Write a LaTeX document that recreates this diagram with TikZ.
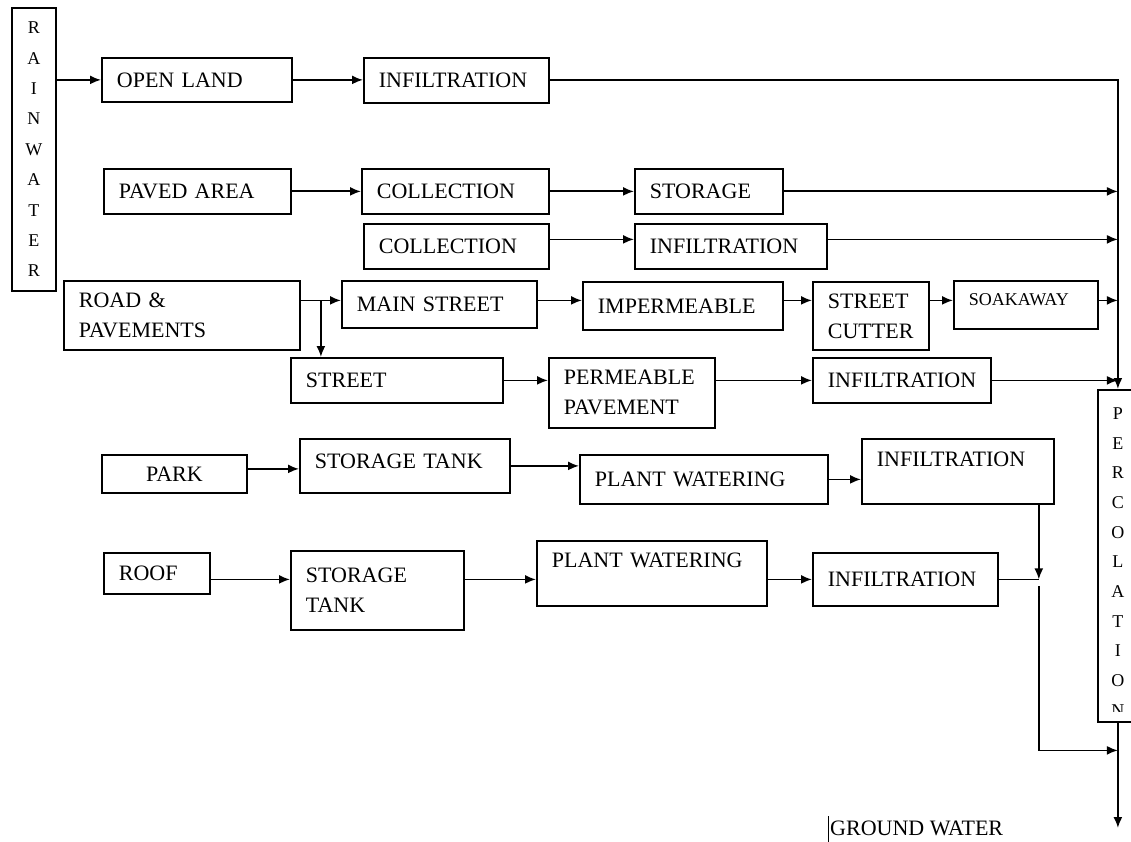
\documentclass[tikz,border=0pt]{standalone}
\usepackage{fontspec}
\setmainfont{Liberation Serif}
\usetikzlibrary{arrows.meta,calc}
\tikzset{
	box/.style 2 args={
			draw, line width=1.8pt, anchor=north west, align=left,
			inner xsep=15pt, inner ysep=0pt,
			minimum width=#1pt, minimum height=#2pt, text width=#1pt-30pt,
			font=\fontsize{22}{30}\selectfont
		},
	letters/.style={
			align=center, inner sep=0pt,
			font=\fontsize{18}{#1}\selectfont
		},
	flow/.style={line width=1.8pt, -{Latex[length=11pt,width=9pt]}},
	link/.style={line width=1.8pt}
}

\begin{document}
\begin{tikzpicture}[x=1pt,y=-1pt]
			\useasboundingbox (0,0) rectangle (1131,842);

			\node [draw, line width=1.8pt, anchor=north west, minimum width=44pt, minimum height=283pt, letters=30.4pt] (rain) at (11,7) {R\\A\\I\\N\\W\\A\\T\\E\\R};

			\node [box={190}{44}] (open) at (101,57) {OPEN LAND};
			\node [box={185}{45}] (infa) at (363,57) {INFILTRATION};

			\node [box={187}{45}] (paved) at (103,168) {PAVED AREA};
			\node [box={187}{45}] (colla) at (361,168) {COLLECTION};
			\node [box={148}{45}] (stor) at (634,168) {STORAGE};
			\node [box={185}{45}] (collb) at (363,223) {COLLECTION};
			\node [box={192}{45}] (infb) at (634,223) {INFILTRATION};

			\node [box={236}{69}] (road) at (63,280) {ROAD \&\\PAVEMENTS};
			\node [box={195}{47}] (mains) at (341,280) {MAIN STREET};
			\node [box={200}{48}] (imper) at (582,281) {IMPERMEABLE};
			\node [box={116}{68}] (cutter) at (812,281) {STREET\\CUTTER};
			\node [box={144}{48}, font=\fontsize{18}{24}\selectfont, text depth=10pt] (soak) at (953,280) {SOAKAWAY};
			\node [box={212}{45}] (street) at (290,357) {STREET};
			\node [box={166}{70}] (perm) at (548,357) {PERMEABLE\\PAVEMENT};
			\node [box={178}{45}] (infc) at (812,357) {INFILTRATION};

			\node [box={145}{38}, align=center] (park) at (101,454) {PARK};
			\node [box={210}{54}, text depth=10pt] (sta) at (299,438) {STORAGE TANK};
			\node [box={248}{49}] (pwa) at (579,454) {PLANT WATERING};
			\node [box={192}{65}, text depth=25pt] (infd) at (861,438) {INFILTRATION};

			\node [box={106}{41}] (roof) at (103,552) {ROOF};
			\node [box={173}{79}] (stb) at (290,550) {STORAGE\\TANK};
			\node [box={230}{65}, text depth=27pt] (pwb) at (536,540) {PLANT WATERING};
			\node [box={185}{53}] (infe) at (812,552) {INFILTRATION};

			\node [draw, line width=1.8pt, anchor=north west, minimum width=40pt, minimum height=332pt] (perc) at (1097,389) {};
			\begin{scope}
				\clip (perc.north west) rectangle ([yshift=11pt]perc.south east);
				\node [letters=29.7pt] (percword) at ($(perc.center)+(0,6)$) {P\\E\\R\\C\\O\\L\\A\\T\\I\\O\\N};
			\end{scope}

			\node [anchor=west, inner sep=0pt, font=\fontsize{22}{30}\selectfont] (ground) at (830,828) {GROUND WATER};
			\draw [line width=0.8pt] ([xshift=-2pt]ground.west) ++(0,15) -- ++(0,-27);

			\draw [flow] (rain.east |- open.west) -- (open.west);
			\draw [flow] (open.east) -- (infa.west |- open.east);
			\draw [flow] (infa.east) -| (perc.north);

			\draw [flow] (paved.east) -- (colla.west |- paved.east);
			\draw [flow] (colla.east) -- (stor.west |- colla.east);
			\draw [flow] (stor.east) -- (perc.north |- stor.east);
			\draw [flow] ([yshift=7pt]collb.east) -- ([yshift=7pt]collb.east -| infb.west);
			\draw [flow] ([yshift=7pt]infb.east) -- ([yshift=7pt]infb.east -| perc.north);

			\coordinate (rowr) at ([yshift=4pt]mains.west);
			\coordinate (fork) at ($(road.east |- rowr)!0.5!(rowr)$);
			\draw [flow] (road.east |- rowr) -- (rowr);
			\draw [flow] (fork) -- (fork |- street.north);
			\draw [flow] (mains.east |- rowr) -- (imper.west |- rowr);
			\draw [flow] (imper.east |- rowr) -- (cutter.west |- rowr);
			\draw [flow] (cutter.east |- rowr) -- (soak.west |- rowr);
			\draw [flow] (soak.east |- rowr) -- (perc.north |- rowr);
			\draw [flow] (street.east) -- (perm.west |- street.east);
			\draw [flow] (perm.east |- street.east) -- (infc.west |- street.east);
			\draw [flow] (infc.east) -- (perc.north |- infc.east);

			\draw [flow] ([yshift=5pt]park.east) -- ([yshift=5pt]park.east -| sta.west);
			\draw [flow] (sta.east) -- (pwa.west |- sta.east);
			\draw [flow] (pwa.east) -- (infd.west |- pwa.east);

			\coordinate (rowf) at (infe.west);
			\draw [flow] (roof.east |- rowf) -- (stb.west |- rowf);
			\draw [flow] (stb.east |- rowf) -- (pwb.west |- rowf);
			\draw [flow] (pwb.east |- rowf) -- (rowf);

			\coordinate (drop) at ([xshift=-16pt]infd.south east |- infe.east);
			\coordinate (bend) at ([yshift=-171pt]drop);
			\draw [flow] (drop |- infd.south) -- (drop);
			\draw [link] (infe.east) -- (drop);
			\draw [flow] ([yshift=-7pt]drop) -- (bend) -- (bend -| perc.south);
			\draw [flow] (perc.south) -- (perc.south |- ground.east);
		\end{tikzpicture}
\end{document}
